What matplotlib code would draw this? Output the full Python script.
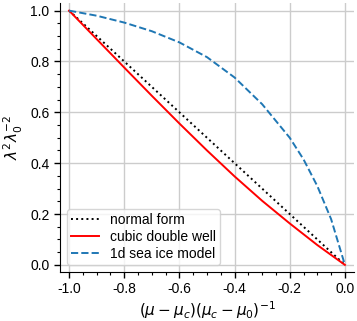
import matplotlib
matplotlib.use('Agg')
import matplotlib.pyplot as plt
from matplotlib.ticker import AutoMinorLocator

plt.rcParams['font.family'] = ['Liberation Sans', 'DejaVu Sans']
plt.rcParams['axes.unicode_minus'] = False

# normal form (straight line)
x_normal = [-1.0, 0.0]
y_normal = [1.0, 0.0]

# cubic double well
x_cubic = [-1.0, -0.9, -0.8, -0.7, -0.6, -0.5, -0.4, -0.3, -0.2, -0.1, 0.0]
y_cubic = [1.0, 0.888, 0.776, 0.665, 0.556, 0.45, 0.348, 0.252, 0.163, 0.078, 0.0]

# 1d sea ice model
x_ice = [-1.0, -0.9, -0.8, -0.7, -0.6, -0.5, -0.4, -0.3, -0.2, -0.15, -0.1, -0.05, 0.0]
y_ice = [1.0, 0.98, 0.953, 0.919, 0.875, 0.817, 0.737, 0.632, 0.50, 0.415, 0.31, 0.18, 0.0]

fig = plt.figure(figsize=(3.57, 3.21), dpi=100)
ax = fig.add_axes([60/357, 49/321, 294/357, 269/321])

ax.plot(x_normal, y_normal, color='black', linestyle=':', lw=1.4, label='normal form')
ax.plot(x_cubic, y_cubic, color='red', lw=1.4, label='cubic double well')
ax.plot(x_ice, y_ice, color='#1f77b4', linestyle='--', lw=1.4, label='1d sea ice model')

ax.set_xlim(-1.033, 0.033)
ax.set_ylim(-0.028, 1.03)
ax.set_xticks([-1.0, -0.8, -0.6, -0.4, -0.2, 0.0])
ax.set_yticks([0.0, 0.2, 0.4, 0.6, 0.8, 1.0])
ax.xaxis.set_minor_locator(AutoMinorLocator(4))
ax.yaxis.set_minor_locator(AutoMinorLocator(4))
ax.grid(True, which='major', color='#cccccc', lw=1.0)
ax.set_axisbelow(True)
ax.tick_params(which='major', length=4, width=1, labelsize=10)
ax.tick_params(which='minor', length=2.5, width=0.8)
for s in ['top', 'right']:
    ax.spines[s].set_visible(False)

ax.set_xlabel(r'$(\mu - \mu_c)(\mu_c - \mu_0)^{-1}$', fontsize=11, labelpad=2)
ax.set_ylabel(r'$\lambda^2\lambda_0^{-2}$', fontsize=11, labelpad=4)
ax.legend(loc='lower left', fontsize=10, labelspacing=0.2, borderpad=0.3,
          handlelength=2.0, framealpha=0.8, edgecolor='#cccccc')

fig.savefig('out.png', dpi=100)
